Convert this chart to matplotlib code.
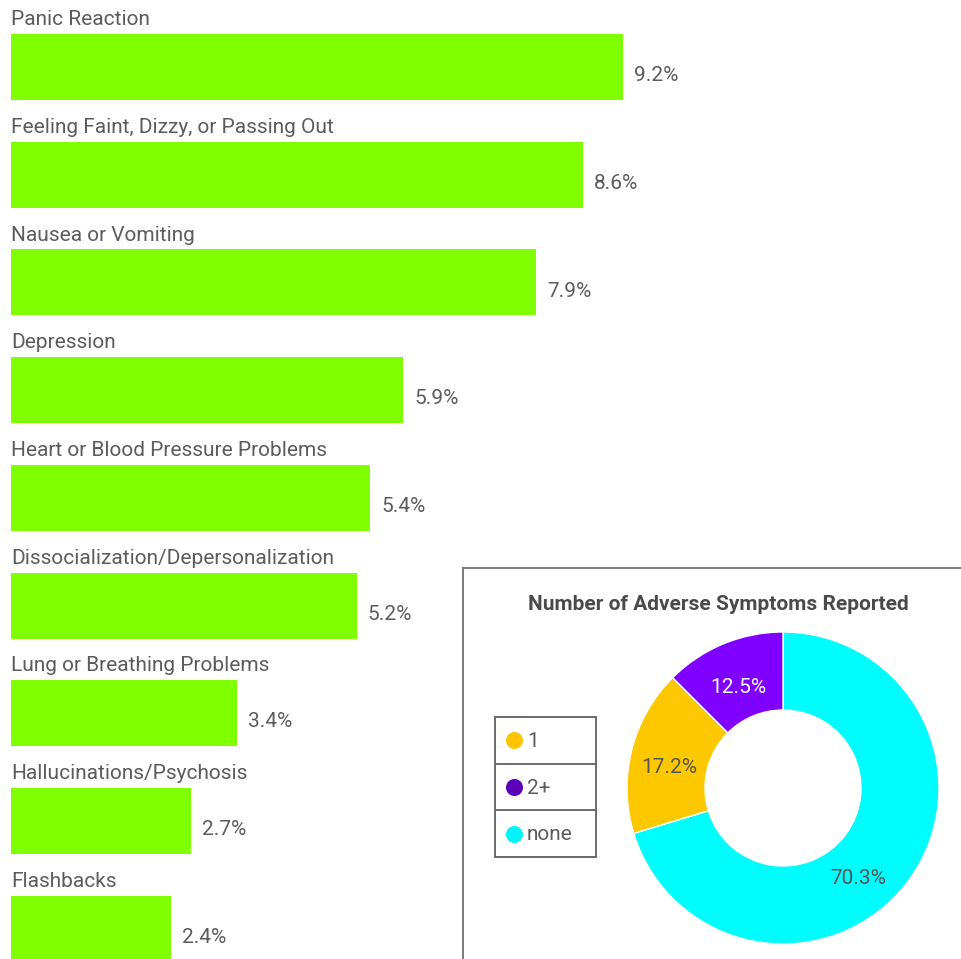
import matplotlib.pyplot as plt
from matplotlib.patches import Rectangle

plt.rcParams['font.family'] = ['Roboto', 'DejaVu Sans']

# Adverse symptoms, share of reports (%)
symptoms = [
    'Panic Reaction',
    'Feeling Faint, Dizzy, or Passing Out',
    'Nausea or Vomiting',
    'Depression',
    'Heart or Blood Pressure Problems',
    'Dissocialization/Depersonalization',
    'Lung or Breathing Problems',
    'Hallucinations/Psychosis',
    'Flashbacks',
]
symptom_pct = [9.2, 8.6, 7.9, 5.9, 5.4, 5.2, 3.4, 2.7, 2.4]

# Number of adverse symptoms per report (%)
count_labels = ['none', '1', '2+']
count_pct = [70.3, 17.2, 12.5]
legend_order = ['1', '2+', 'none']

BAR_COLOR = '#80ff00'
PIE_COLORS = {'none': '#00fdfd', '1': '#fec800', '2+': '#7f00ff'}
DOT_COLORS = {'none': '#00f4f8', '1': '#fec400', '2+': '#5a00b8'}
TEXT = '#5c5c5c'
FS = 15

W, H = 961, 959
fig = plt.figure(figsize=(W / 100, H / 100), dpi=100)

# ---- horizontal bars, label above each bar ----
px_per_pct = 66.5
row = 107.7
first_center = 67
ax = fig.add_axes([11 / W, 0, (W - 11) / W, 1])
ax.set_xlim(0, (W - 11) / px_per_pct)
ax.set_ylim((H - first_center) / row, -first_center / row)
ax.axis('off')

ypos = list(range(len(symptoms)))
ax.barh(ypos, symptom_pct, height=66 / row, color=BAR_COLOR, linewidth=0)
for y, name, v in zip(ypos, symptoms, symptom_pct):
    ax.text(0, y - 0.44, name, ha='left', va='center', fontsize=FS, color=TEXT)
    ax.text(v + 11 / px_per_pct, y + 0.08, f'{v}%', ha='left', va='center',
            fontsize=FS, color=TEXT)

# ---- donut panel ----
panel = fig.add_axes([463 / W, -0.01, (W - 463 + 10) / W, (H - 568) / H + 0.01])
panel.set_xticks([])
panel.set_yticks([])
for s in panel.spines.values():
    s.set_color('#7a7a7a')
    s.set_linewidth(1.4)
panel.text(718 / W, 1 - 604 / H, 'Number of Adverse Symptoms Reported',
           transform=fig.transFigure, ha='center', va='center', fontsize=FS,
           fontweight='bold', color='#4a4a4a')

cx, cy, r = 783, 788, 156
pax = fig.add_axes([(cx - r) / W, (H - cy - r) / H, 2 * r / W, 2 * r / H])
wedges, _, pct_texts = pax.pie(
    count_pct, colors=[PIE_COLORS[k] for k in count_labels],
    startangle=90, counterclock=False, radius=1,
    wedgeprops=dict(width=0.5, edgecolor='white', linewidth=1),
    autopct='%.1f%%', pctdistance=0.75,
    textprops=dict(fontsize=FS, color='#555555'))
pct_texts[count_labels.index('2+')].set_color('white')
# nudge slice labels a little lower, the big slice label sits nearer the bottom
for t in pct_texts:
    x, y = t.get_position()
    t.set_position((x, y - 0.05))
pct_texts[count_labels.index('none')].set_position((0.48, -0.58))
pax.set_xlim(-1, 1)
pax.set_ylim(-1, 1)

# legend box with separated rows
lx, ly, lw, lh = 495, 717, 101, 140
lax = fig.add_axes([lx / W, (H - ly - lh) / H, lw / W, lh / H])
lax.set_xlim(0, lw)
lax.set_ylim(lh, 0)
lax.axis('off')
rh = lh / len(legend_order)
lax.add_patch(Rectangle((0, 0), lw, lh, fill=False, edgecolor='#6a6a6a',
                        linewidth=1.4, clip_on=False))
for i, key in enumerate(legend_order):
    if i > 0:
        lax.plot([0, lw], [i * rh, i * rh], color='#6a6a6a', linewidth=1.4)
    lax.scatter([19], [i * rh + rh / 2], s=150, color=DOT_COLORS[key], linewidths=0)
    lax.text(32, i * rh + rh / 2 + 1, key, ha='left', va='center', fontsize=FS, color=TEXT)

fig.savefig('out.png', dpi=100, facecolor='white')
